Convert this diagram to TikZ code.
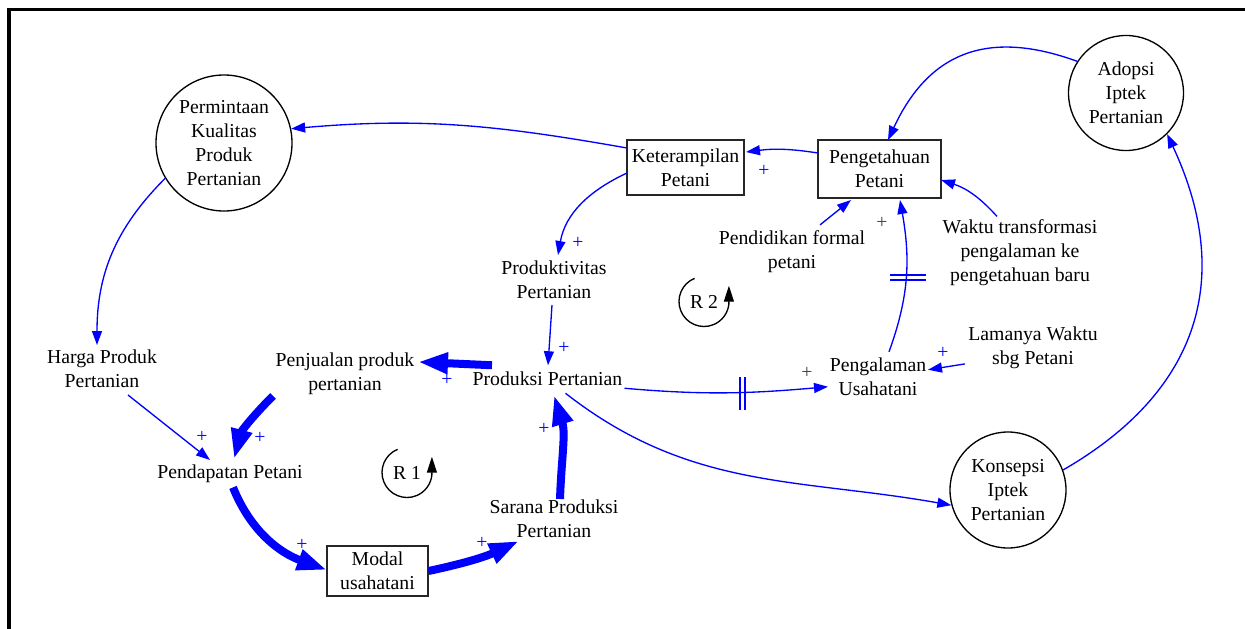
\documentclass[tikz,border=0pt]{standalone}
\usepackage{fontspec}
\setmainfont{Liberation Serif}
\usetikzlibrary{arrows.meta,calc}
\begin{document}
\begin{tikzpicture}[x=0.75pt,y=-0.75pt,
  every node/.style={font=\fontsize{14.8pt}{18pt}\selectfont, inner sep=1pt, align=center},
  circ/.style={circle,draw=black,line width=1pt,inner sep=0pt},
  box/.style={rectangle,draw=black!85,line width=1pt,inner sep=0pt},
  link/.style={blue,line width=1pt,-{Triangle[length=10.5pt,width=7.5pt]}},
  biglink/.style={blue,line width=6pt,-{Triangle[length=22.5pt,width=15pt]}},
  pl/.style={text=blue},
  pd/.style={text=black!75},
  delaymark/.style={blue,line width=1pt},
  loopmark/.style={black,line width=1pt,-{Triangle[length=12pt,width=7.5pt]}},
]
\useasboundingbox (0,0) rectangle (1245,628);
\draw[line width=2.6pt] (9,640) -- (9,9.5) -- (1260,9.5);

% stocks / circles
\node[circ,minimum size=102pt] (perm) at (224,143) {Permintaan\\Kualitas\\Produk\\Pertanian};
\node[circ,minimum size=86.25pt] (adop) at (1126,93) {Adopsi\\Iptek\\Pertanian};
\node[circ,minimum size=87pt] (kons) at (1008,490) {Konsepsi\\Iptek\\Pertanian};
\node[box,minimum width=87.75pt,minimum height=41.25pt] (ket) at (685.5,167.5) {Keterampilan\\Petani};
\node[box,minimum width=92.25pt,minimum height=43.5pt] (tahu) at (879.5,169) {Pengetahuan\\Petani};
\node[box,minimum width=75.75pt,minimum height=37.5pt] (modal) at (377.5,571) {Modal\\usahatani};

% variables
\node (prodv) at (554,279.75) {Produktivitas\\Pertanian};
\node (prod) at (547.5,378.25) {Produksi Pertanian};
\node (penj) at (345,373.9) {Penjualan produk\\pertanian};
\node (harga) at (102,368.25) {Harga Produk\\Pertanian};
\node (pend) at (230,473.4) {Pendapatan Petani};
\node (sar) at (554,518.25) {Sarana Produksi\\Pertanian};
\node (alam) at (878,376.75) {Pengalaman\\Usahatani};
\node (lama) at (1033,347.9) {Lamanya Waktu\\sbg Petani};
\node (waktu) at (1020,252.4) {Waktu transformasi\\pengalaman ke\\pengetahuan baru};
\node (didik) at (792,251.9) {Pendidikan formal\\petani};
\node (r1) at (407,472.5) {R 1};
\node (r2) at (704,301.5) {R 2};

% loop markers
\draw[loopmark] ([shift={(112:18.75pt)}]r1.center) arc[start angle=112,end angle=355,radius=18.75pt] -- ++(0,-18);
\draw[loopmark] ([shift={(112:18.75pt)}]r2.center) arc[start angle=112,end angle=355,radius=18.75pt] -- ++(0,-18);

% thin links
\draw[link] ($(ket)+(-58.5,-19.5)$) to[out=170,in=5] (perm.12);
\draw[link] ($(tahu)+(-61.5,-16)$) to[bend right=8] ($(ket)+(60.5,-15.5)$);
\draw[link] (adop.147) to[out=160,in=65,looseness=1.2] ($(tahu)+(8.5,-29)$);
\draw[link] (kons.20) to[out=30,in=-65,looseness=1.15] (adop.-45);
\draw[link] ($(prod)+(18,15)$) to[out=-38,in=170] (kons.195);
\draw[link] ($(prod)+(77,10)$) to[out=-5,in=185] ($(alam)+(-50,10)$);
\draw[link] ($(alam)+(11,-25)$) to[out=70,in=-80] ($(tahu)+(20.5,31)$);
\draw[link] ($(lama)+(-68,16)$) -- ($(alam)+(50,-7)$);
\draw[link] ($(waktu)+(-23,-36)$) to[bend right=15] ($(tahu)+(61.5,11)$);
\draw[link] ($(didik)+(28,-27)$) -- ($(tahu)+(-28.5,31)$);
\draw[link] ($(ket)+(-58.5,5.5)$) to[out=205,in=80] ($(prodv)+(4,-24.75)$);
\draw[link] ($(prodv)+(-2,25.25)$) -- ($(prod)+(0.5,-13)$);
\draw[link] ($(harga)+(26,26.75)$) -- ($(pend)+(-20,-13.4)$);
\draw[link] (perm.211) to[out=225,in=90] ($(harga)+(-5,-23.25)$);

% thick links
\draw[biglink] ($(prod)+(-55.5,-13)$) -- ($(penj)+(73,-12)$);
\draw[biglink] ($(penj)+(-72,22)$) to[out=225,in=75] ($(pend)+(4,-14.4)$);
\draw[biglink] ($(pend)+(3,14)$) to[out=-68,in=160] ($(modal)+(-50.5,-1)$);
\draw[biglink] ($(modal)+(51,0)$) to[out=12,in=205] ($(sar)+(-35,22.75)$);
\draw[biglink] ($(sar)+(6,-19.25)$) to[out=88,in=-73] ($(prod)+(6.5,17)$);

% delay marks
\draw[delaymark] (740,377) -- (740,410) (745,377) -- (745,410);
\draw[delaymark] (890,275) -- (926,275) (890,280) -- (926,280);

% polarity signs
\node[pl] (s1) at (764,171) {+};
\node[pl] (s2) at (578,243) {+};
\node[pl] (s3) at (564,348) {+};
\node[pl] (s4) at (447,380) {+};
\node[pl] (s5) at (260,438) {+};
\node[pl] (s6) at (202,437) {+};
\node[pl] (s7) at (302,545) {+};
\node[pl] (s8) at (482,543) {+};
\node[pl] (s9) at (544,429) {+};
\node[pd] (s10) at (807,373) {+};
\node[pd] (s11) at (882,223) {+};
\node[pl] (s12) at (943,353) {+};
\end{tikzpicture}
\end{document}
